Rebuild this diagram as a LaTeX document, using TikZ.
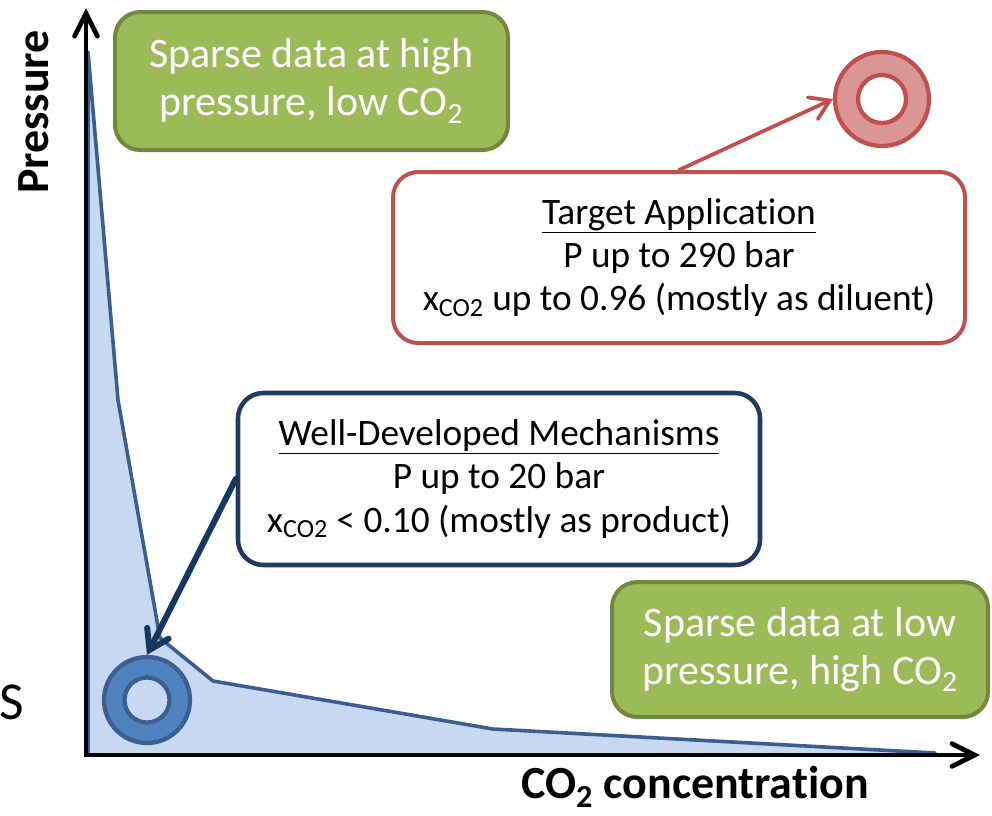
\documentclass[tikz,border=0pt]{standalone}
\usepackage{fontspec}
\setmainfont{Carlito}[Ligatures=CommonOff]
\usetikzlibrary{arrows.meta}
\definecolor{gfill}{HTML}{9BBB59}
\definecolor{gline}{HTML}{71893F}
\definecolor{rline}{HTML}{C0504D}
\definecolor{rfill}{HTML}{D99694}
\definecolor{navy}{HTML}{1F3B64}
\definecolor{navyarrow}{HTML}{17375E}
\definecolor{lblue}{HTML}{C6D9F1}
\definecolor{bline}{HTML}{3A5F8E}
\definecolor{bring}{HTML}{4F81BD}
\begin{document}
\begin{tikzpicture}[x=0.75pt,y=-0.75pt,
  gbox/.style={draw=gline, fill=gfill, line width=3pt, rounded corners=19pt,
    text=white, align=center, inner sep=0pt, font=\fontsize{31.5}{36}\selectfont},
  infobox/.style={fill=white, line width=3pt, rounded corners=19pt,
    align=center, inner sep=0pt, font=\fontsize{28}{32.5}\selectfont},
  ringouter/.style={circle, line width=3.2pt, inner sep=0pt},
  ringinner/.style={circle, line width=3.2pt, inner sep=0pt},
  axislabel/.style={font=\fontsize{34.5}{40}\selectfont\bfseries},
  axisline/.style={line width=3.6pt, line join=miter,
    {Straight Barb[length=17pt,width=17pt,line cap=round]}-{Straight Barb[length=17pt,width=17pt,line cap=round]}},
  pointer/.style={-{Straight Barb[length=14pt,width=18pt,line cap=round]}, line cap=round}
]
\useasboundingbox (0,0) rectangle (992,815);

% data region
\draw[fill=lblue, draw=bline, line width=2.7pt, line join=round]
  (88,52) -- (118,400) -- (160,638) -- (213,681) -- (493,729) -- (935,753)
  -- (935,755) -- (88,755) -- cycle;

% rings
\node[ringouter, draw=bline, fill=bring, minimum size=64.5pt] (ringB) at (147,700) {};
\node[ringinner, draw=bline, fill=lblue, minimum size=33.75pt] (ringBi) at (147,700) {};
\node[ringouter, draw=rline, fill=rfill, minimum size=70.5pt] (ringR) at (882,99) {};
\node[ringinner, draw=rline, fill=white, minimum size=36pt] (ringRi) at (882,99) {};

% axes
\coordinate (ytip) at (86,8);
\coordinate (origin) at (86,755);
\coordinate (xtip) at (980,755);
\draw[axisline] (ytip) -- (origin) -- (xtip);

% boxes
\node[gbox, minimum width=294.75pt, minimum height=103.5pt] (g1) at (311.5,81)
  {Sparse data at high\\pressure, low CO\textsubscript{2}};
\node[gbox, minimum width=282pt, minimum height=101.25pt] (g2) at (800,649.5)
  {Sparse data at low\\pressure, high CO\textsubscript{2}};
\node[infobox, draw=rline, minimum width=429pt, minimum height=128.25pt] (rbox) at (679,257.5)
  {\underline{Target Application}\\P up to 290 bar\\x\textsubscript{CO2} up to 0.96 (mostly as diluent)};
\node[infobox, draw=navy, line width=3.4pt, minimum width=391.5pt, minimum height=129pt] (bbox) at (499,479)
  {\underline{Well-Developed Mechanisms}\\P up to 20 bar\\x\textsubscript{CO2} < 0.10 (mostly as product)};

% pointers
\draw[pointer, draw=rline, line width=2.8pt] (rbox.north) -- (ringR.west);
\draw[pointer, draw=navyarrow, line width=4.5pt] (bbox.west) -- (ringB.north);

% labels
\node[axislabel, rotate=90] (plabel) at (34,112) {Pressure};
\node[axislabel] (clabel) at (695,787) {CO\textsubscript{2} concentration};
\node[font=\fontsize{40}{46}\selectfont] (sfrag) at (12,702) {S};
\end{tikzpicture}
\end{document}
